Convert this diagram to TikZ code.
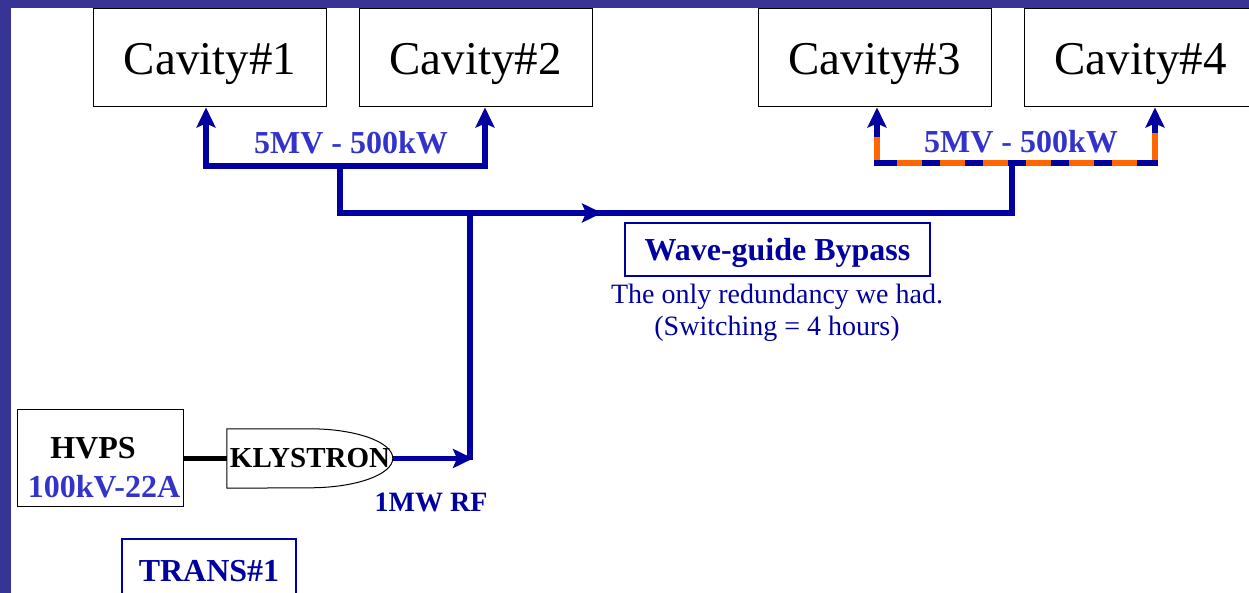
\documentclass[tikz,border=0pt]{standalone}
\usepackage{fontspec}
\setmainfont{Liberation Serif}
\usetikzlibrary{arrows.meta}
\definecolor{frameblue}{RGB}{56,52,150}
\definecolor{wgblue}{RGB}{0,0,160}
\definecolor{lblblue}{RGB}{51,51,204}
\definecolor{wgorange}{RGB}{255,102,0}

\begin{document}
\begin{tikzpicture}[x=1pt, y=1pt, >={Stealth[length=20pt,width=19pt,inset=4pt]},
    cavity/.style={draw, line width=1pt, minimum width=233pt, minimum height=98pt, inner sep=0pt, text height=44pt, text depth=10pt, font=\fontsize{47}{50}\selectfont},
    feed/.style={draw=wgblue, line width=5.5pt},
    wgbox/.style={draw=wgblue, line width=1.5pt, inner sep=0pt, text=wgblue, font=\fontsize{32}{36}\selectfont\bfseries},
    lbl/.style={text=lblblue, font=\fontsize{32}{36}\selectfont\bfseries}]
    \useasboundingbox (0,0) rectangle (1249,593);
    % frame
    \fill[frameblue] (0,585) rectangle (1249,593);
    \fill[frameblue] (0,0) rectangle (11,593);

    % cavities
    \node[cavity] (cav1) at (210,535) {Cavity\#1};
    \node[cavity] (cav2) at (475.5,535) {Cavity\#2};
    \node[cavity] (cav3) at (874.5,535) {Cavity\#3};
    \node[cavity] (cav4) at (1140.5,535) {Cavity\#4};

    % power source
    \node[draw, line width=1pt, minimum width=166pt, minimum height=97pt] (hvps) at (100,134.5) {};
    \node[font=\fontsize{32}{36}\selectfont\bfseries] (hvpsname) at (93,145) {HVPS};
    \node[lbl] (hvpsval) at (104,106) {100kV-22A};
    \node[minimum width=166pt, minimum height=59pt, inner sep=0pt, font=\fontsize{29}{32}\selectfont\bfseries] (kly) at (310,134.5) {KLYSTRON};
    \draw[line width=1pt] (kly.north west) -- ++(83,0) arc[start angle=90, end angle=-90, x radius=83, y radius=29.5] -- (kly.south west) -- cycle;
    \node[text=wgblue, font=\fontsize{28}{32}\selectfont\bfseries] (rf) at (431,91) {1MW RF};
    \node[wgbox, minimum width=174pt, minimum height=64pt] (trans) at (209,22) {TRANS\#1};

    % bypass
    \node[wgbox, minimum width=305pt, minimum height=53pt, text height=31pt, text depth=9pt] (bypass) at (777.5,343.5) {Wave-guide Bypass};
    \node[text=wgblue, font=\fontsize{28}{32}\selectfont, align=center] (note) at (777,280) {The only redundancy we had.\\(Switching = 4 hours)};

    % labels
    \node[lbl] (pw1) at (351,450) {5MV - 500kW};
    \node[lbl] (pw2) at (1021,451) {5MV - 500kW};

    % wave-guides
    \coordinate (fl) at (206,427); \coordinate (fr) at (485,427);
    \coordinate (sl) at (340,427); \coordinate (sl2) at (340,380);
    \coordinate (sr2) at (1012,380); \coordinate (sr) at (1012,430);
    \coordinate (m1) at (527,380); \coordinate (m2) at (602,380);
    \coordinate (tk) at (470,380); \coordinate (tb) at (470,133);
    \coordinate (gl) at (877,430); \coordinate (gr) at (1155,430);
    \coordinate (ol) at (877,456); \coordinate (or) at (1155,460);
    \coordinate (d1) at (897,430); \coordinate (d2) at (1140,430);

    \draw[line width=5pt] (hvps.east) -- (kly.west);
    \draw[feed] (tk) -- (tb);
    \draw[feed,->,shorten >=-3pt] (kly.east) -- (kly.east -| tk);
    \draw[feed] (sl) -- (sl2) -- (sr2) -- (sr);
    \draw[feed,line width=6pt,->] (m1) -- (m2);
    \draw[feed,<->] (cav1.south -| fl) -- (fl) -- (fr) -- (cav2.south -| fr);
    \draw[feed,<->] (cav3.south -| gl) -- (gl) -- (gr) -- (cav4.south -| gr);
    \draw[wgorange, line width=5.5pt] (ol) -- ++(0,-23);
    \draw[wgorange, line width=5.5pt] (or) -- ++(0,-27);
    \draw[wgorange, line width=5.5pt, dash pattern=on 25pt off 18pt] (d1) -- (d2);
\end{tikzpicture}
\end{document}
